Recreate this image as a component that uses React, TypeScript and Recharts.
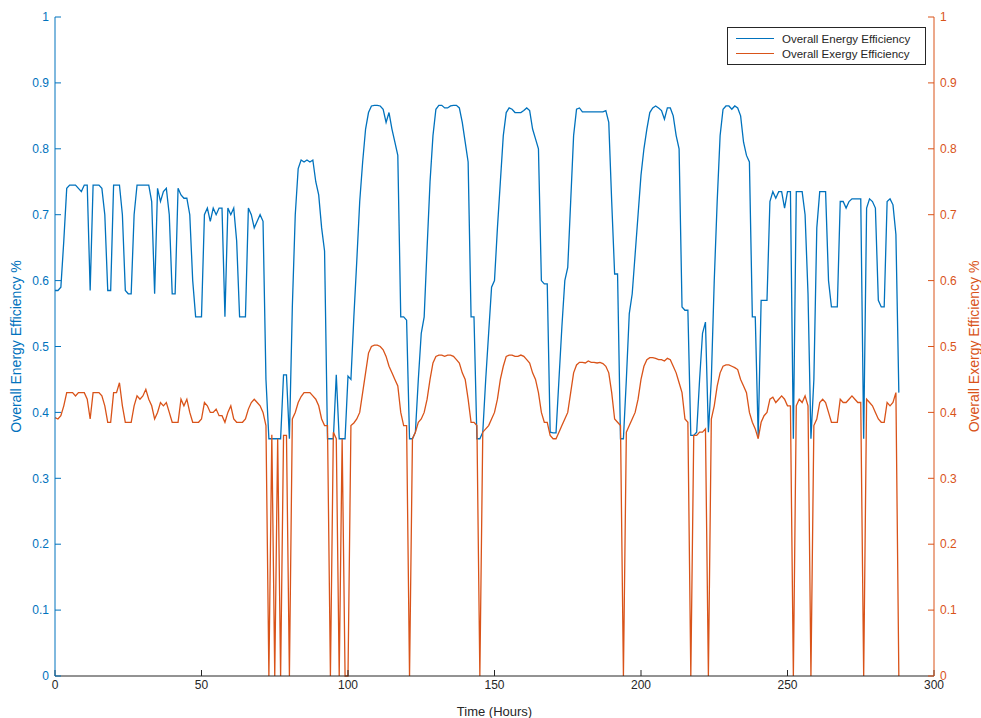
import { LineChart, Line, XAxis, YAxis } from 'recharts';

// Overall energy efficiency, hourly samples from hour 0 to 288
const energyEff = [
  0.585, 0.585, 0.59, 0.66, 0.74, 0.745, 0.745, 0.745, 0.74, 0.735, 0.745, 0.745, 0.585, 0.745, 0.745, 0.745, 0.74, 0.7, 0.585, 0.585,
  0.745, 0.745, 0.745, 0.7, 0.585, 0.58, 0.58, 0.7, 0.745, 0.745, 0.745, 0.745, 0.745, 0.72, 0.58, 0.74, 0.72, 0.735, 0.74, 0.7,
  0.58, 0.58, 0.74, 0.73, 0.725, 0.725, 0.7, 0.6, 0.545, 0.545, 0.545, 0.7, 0.71, 0.69, 0.71, 0.7, 0.71, 0.71, 0.545, 0.71,
  0.7, 0.71, 0.66, 0.545, 0.545, 0.545, 0.71, 0.7, 0.68, 0.69, 0.7, 0.69, 0.45, 0.36, 0.36, 0.36, 0.36, 0.36, 0.457, 0.457,
  0.36, 0.56, 0.7, 0.77, 0.783, 0.78, 0.783, 0.78, 0.783, 0.75, 0.73, 0.68, 0.645, 0.36, 0.36, 0.36, 0.457, 0.36, 0.36, 0.36,
  0.455, 0.45, 0.545, 0.63, 0.72, 0.78, 0.83, 0.855, 0.865, 0.866, 0.866, 0.865, 0.86, 0.84, 0.855, 0.83, 0.81, 0.79, 0.545, 0.545,
  0.54, 0.36, 0.36, 0.37, 0.45, 0.52, 0.545, 0.65, 0.75, 0.82, 0.86, 0.866, 0.866, 0.862, 0.862, 0.865, 0.866, 0.866, 0.862, 0.84,
  0.81, 0.78, 0.545, 0.545, 0.36, 0.36, 0.37, 0.45, 0.52, 0.59, 0.6, 0.68, 0.75, 0.82, 0.855, 0.862, 0.86, 0.855, 0.855, 0.855,
  0.858, 0.862, 0.858, 0.83, 0.815, 0.8, 0.6, 0.595, 0.595, 0.37, 0.369, 0.369, 0.45, 0.53, 0.6, 0.62, 0.72, 0.82, 0.86, 0.862,
  0.856, 0.856, 0.856, 0.856, 0.856, 0.856, 0.856, 0.856, 0.858, 0.84, 0.72, 0.61, 0.61, 0.36, 0.36, 0.45, 0.55, 0.58, 0.64, 0.7,
  0.76, 0.8, 0.83, 0.855, 0.862, 0.865, 0.862, 0.858, 0.845, 0.862, 0.862, 0.85, 0.82, 0.8, 0.56, 0.555, 0.555, 0.365, 0.365, 0.37,
  0.45, 0.52, 0.537, 0.37, 0.45, 0.6, 0.72, 0.82, 0.86, 0.865, 0.865, 0.86, 0.865, 0.862, 0.85, 0.81, 0.79, 0.78, 0.545, 0.545,
  0.363, 0.57, 0.57, 0.57, 0.72, 0.735, 0.725, 0.735, 0.735, 0.71, 0.735, 0.735, 0.36, 0.735, 0.735, 0.735, 0.7, 0.58, 0.36, 0.45,
  0.68, 0.735, 0.735, 0.735, 0.6, 0.56, 0.56, 0.56, 0.72, 0.72, 0.71, 0.72, 0.724, 0.724, 0.724, 0.724, 0.36, 0.71, 0.724, 0.72,
  0.71, 0.57, 0.56, 0.56, 0.72, 0.724, 0.715, 0.67, 0.43,
];

// Overall exergy efficiency, hourly samples from hour 0 to 288
const exergyEff = [
  0.392, 0.39, 0.395, 0.41, 0.43, 0.43, 0.43, 0.425, 0.43, 0.43, 0.43, 0.42, 0.39, 0.43, 0.43, 0.43, 0.425, 0.41, 0.385, 0.385,
  0.43, 0.43, 0.445, 0.41, 0.385, 0.385, 0.385, 0.41, 0.425, 0.42, 0.425, 0.435, 0.42, 0.41, 0.39, 0.4, 0.415, 0.41, 0.415, 0.4,
  0.385, 0.385, 0.385, 0.42, 0.41, 0.42, 0.4, 0.385, 0.385, 0.385, 0.39, 0.415, 0.41, 0.4, 0.4, 0.405, 0.395, 0.395, 0.385, 0.4,
  0.41, 0.39, 0.385, 0.385, 0.385, 0.39, 0.405, 0.415, 0.42, 0.415, 0.41, 0.4, 0.38, 0, 0.366, 0, 0.36, 0, 0.365, 0.365,
  0, 0.39, 0.4, 0.415, 0.424, 0.43, 0.43, 0.43, 0.425, 0.42, 0.41, 0.39, 0.38, 0.38, 0, 0.37, 0.36, 0, 0.36, 0,
  0, 0.38, 0.384, 0.39, 0.4, 0.43, 0.46, 0.49, 0.5, 0.502, 0.502, 0.5, 0.495, 0.485, 0.47, 0.46, 0.45, 0.44, 0.4, 0.38,
  0.38, 0, 0.36, 0.37, 0.385, 0.39, 0.4, 0.42, 0.45, 0.475, 0.485, 0.487, 0.487, 0.485, 0.487, 0.487, 0.485, 0.48, 0.475, 0.46,
  0.45, 0.42, 0.385, 0.385, 0.38, 0, 0.37, 0.375, 0.38, 0.39, 0.4, 0.42, 0.45, 0.47, 0.485, 0.487, 0.487, 0.485, 0.485, 0.487,
  0.485, 0.48, 0.475, 0.46, 0.45, 0.43, 0.4, 0.385, 0.385, 0.365, 0.36, 0.36, 0.37, 0.38, 0.39, 0.4, 0.43, 0.46, 0.472, 0.476,
  0.476, 0.475, 0.478, 0.476, 0.476, 0.475, 0.476, 0.474, 0.47, 0.46, 0.43, 0.39, 0.385, 0.38, 0, 0.37, 0.38, 0.39, 0.4, 0.42,
  0.45, 0.47, 0.48, 0.483, 0.483, 0.482, 0.48, 0.48, 0.478, 0.482, 0.48, 0.47, 0.46, 0.445, 0.43, 0.39, 0.385, 0, 0.365, 0.365,
  0.37, 0.37, 0.375, 0, 0.39, 0.41, 0.44, 0.46, 0.47, 0.472, 0.472, 0.47, 0.468, 0.465, 0.45, 0.44, 0.43, 0.4, 0.385, 0.375,
  0.36, 0.385, 0.395, 0.4, 0.42, 0.423, 0.415, 0.42, 0.425, 0.42, 0.41, 0.41, 0, 0.41, 0.42, 0.415, 0.425, 0.41, 0, 0.38,
  0.39, 0.415, 0.42, 0.415, 0.4, 0.385, 0.385, 0.385, 0.42, 0.415, 0.415, 0.42, 0.425, 0.42, 0.415, 0.415, 0, 0.42, 0.415, 0.41,
  0.4, 0.39, 0.385, 0.385, 0.415, 0.41, 0.415, 0.43, 0,
];

const xTicks = [0, 50, 100, 150, 200, 250, 300];
const yTicks = [0, 0.1, 0.2, 0.3, 0.4, 0.5, 0.6, 0.7, 0.8, 0.9, 1];

const BLUE = '#0072BD';
const ORANGE = '#D95319';
const FONT = '"Liberation Sans", Arial, sans-serif';

const data = energyEff.map((v, i) => ({ hour: i, energy: v, exergy: exergyEff[i] }));

export default function App() {
  return (
    <div style={{ position: 'absolute', left: 0, top: 0, width: 981, height: 718, background: '#fff', fontFamily: FONT }}>
      <LineChart width={981} height={718} data={data} margin={{ top: 17, right: 7, left: 10, bottom: 20 }}>
        <XAxis
          dataKey="hour"
          type="number"
          domain={[0, 300]}
          ticks={xTicks}
          tick={{ fill: '#262626', fontSize: 12, fontFamily: FONT }}
          axisLine={{ stroke: '#262626' }}
          tickLine={{ stroke: '#262626' }}
          tickSize={-6}
          tickMargin={10}
          height={22}
          label={{ value: 'Time (Hours)', position: 'insideBottom', offset: -18, fill: '#262626', fontSize: 13, fontFamily: FONT }}
        />
        <YAxis
          yAxisId="left"
          domain={[0, 1]}
          ticks={yTicks}
          tick={{ fill: BLUE, fontSize: 12, fontFamily: FONT }}
          axisLine={{ stroke: BLUE }}
          tickLine={{ stroke: BLUE }}
          tickSize={-6}
          tickMargin={12}
          width={45}
          label={{ value: 'Overall Energy Efficiency %', angle: -90, position: 'insideLeft', offset: 6, fill: BLUE, fontSize: 14, fontFamily: FONT, style: { textAnchor: 'middle' } }}
        />
        <YAxis
          yAxisId="right"
          orientation="right"
          domain={[0, 1]}
          ticks={yTicks}
          tick={{ fill: ORANGE, fontSize: 12, fontFamily: FONT }}
          axisLine={{ stroke: ORANGE }}
          tickLine={{ stroke: ORANGE }}
          tickSize={-6}
          tickMargin={12}
          width={40}
          label={{ value: 'Overall Exergy Efficiency %', angle: -90, position: 'insideRight', offset: 0, fill: ORANGE, fontSize: 14, fontFamily: FONT, style: { textAnchor: 'middle' } }}
        />
        <Line yAxisId="left" dataKey="energy" stroke={BLUE} strokeWidth={1.3} dot={false} isAnimationActive={false} />
        <Line yAxisId="right" dataKey="exergy" stroke={ORANGE} strokeWidth={1.3} dot={false} isAnimationActive={false} />
      </LineChart>
      <div
        style={{
          position: 'absolute', left: 727, top: 27, width: 199, height: 38, border: '1px solid #262626',
          background: '#fff', fontSize: 11.5, color: '#262626', padding: '3px 0', boxSizing: 'border-box',
        }}
      >
        {[{ c: BLUE, t: 'Overall Energy Efficiency' }, { c: ORANGE, t: 'Overall Exergy Efficiency' }].map((e) => (
          <div key={e.t} style={{ display: 'flex', alignItems: 'center', height: 15 }}>
            <span style={{ display: 'inline-block', marginLeft: 8, width: 38, height: 0, borderTop: `1.3px solid ${e.c}` }} />
            <span style={{ marginLeft: 8 }}>{e.t}</span>
          </div>
        ))}
      </div>
    </div>
  );
}
